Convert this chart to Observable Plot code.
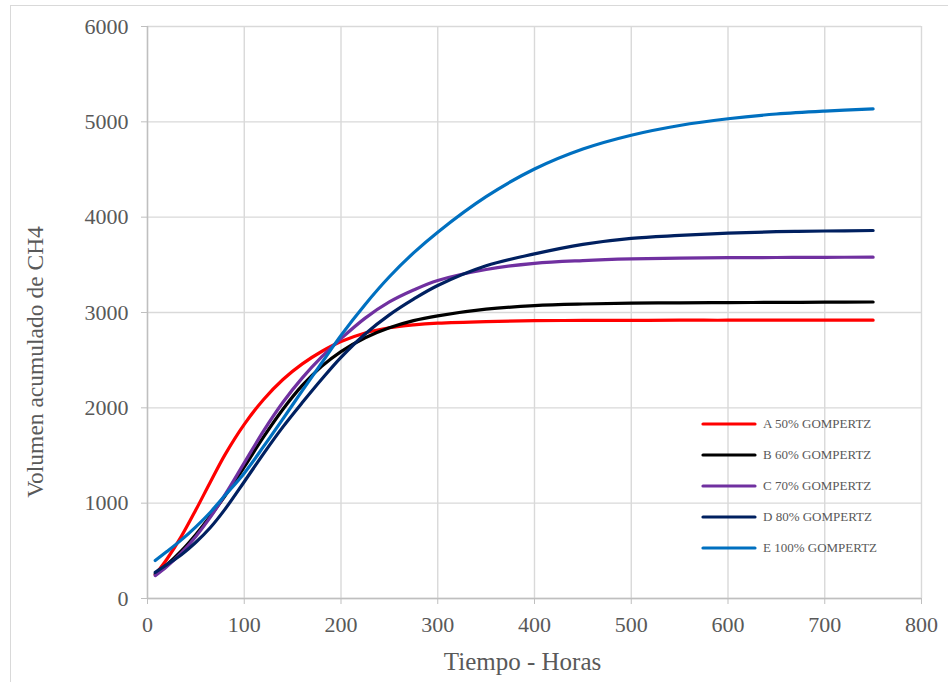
<!DOCTYPE html>
<html>
<head>
<meta charset="utf-8">
<script src="https://cdn.jsdelivr.net/npm/d3@7"></script>
<script src="https://cdn.jsdelivr.net/npm/@observablehq/plot@0.6"></script>
<style>
  html, body { margin: 0; padding: 0; background: #fff; }
  #wrap { position: relative; width: 948px; height: 682px; overflow: hidden; }
  #frame { position: absolute; left: 10px; top: 5px; width: 960px; height: 700px; border: 1.5px solid #D9D9D9; box-sizing: border-box; pointer-events: none; }
  #ytitle { position: absolute; left: 36px; top: 362px; transform: translate(-50%, -50%) rotate(-90deg); white-space: nowrap;
            font-family: "Liberation Serif", "Times New Roman", serif; font-size: 23.5px; color: #595959; line-height: 1; }
  #legend { position: absolute; left: 700px; top: 412px; font-family: "Liberation Serif", "Times New Roman", serif; font-size: 13px; color: #595959; }
  #legend .row { position: absolute; left: 0; height: 24px; display: flex; align-items: center; white-space: nowrap; }
  #legend svg { margin-right: 5px; }
</style>
</head>
<body>
<div id="wrap">
  <div id="chart"></div>
  <div id="frame"></div>
  <div id="ytitle"></div>
  <div id="legend"></div>
</div>
<script>
// Time (hours)
const hours = [8, 20, 35, 50, 65, 80, 100, 120, 140, 160, 180, 200, 225, 250, 275, 300, 350, 400, 450, 500, 550, 600, 650, 700, 750];

// Series values (accumulated CH4 volume)
const serieA = [250, 412, 652, 930, 1222, 1507, 1827, 2087, 2297, 2461, 2591, 2695, 2785, 2840, 2870, 2888, 2905, 2914, 2917, 2918, 2919, 2919, 2920, 2920, 2920];
const serieB = [258, 355, 500, 672, 866, 1075, 1380, 1695, 1985, 2235, 2435, 2590, 2735, 2840, 2915, 2965, 3035, 3072, 3089, 3098, 3102, 3104, 3106, 3108, 3110];
const serieC = [240, 336, 478, 651, 853, 1086, 1422, 1758, 2058, 2314, 2534, 2726, 2941, 3111, 3236, 3336, 3451, 3516, 3545, 3562, 3570, 3575, 3577, 3579, 3580];
const serieD = [275, 355, 460, 590, 745, 935, 1225, 1520, 1800, 2055, 2300, 2530, 2775, 2975, 3140, 3283, 3490, 3615, 3715, 3778, 3808, 3832, 3848, 3855, 3860];
const serieE = [398, 492, 615, 752, 905, 1080, 1315, 1595, 1885, 2180, 2470, 2760, 3085, 3375, 3625, 3843, 4215, 4505, 4715, 4860, 4962, 5032, 5082, 5113, 5135];

const seriesNames = ["A 50% GOMPERTZ", "B 60% GOMPERTZ", "C 70% GOMPERTZ", "D 80% GOMPERTZ", "E 100% GOMPERTZ"];
const seriesColors = ["#FF0000", "#000000", "#7030A0", "#002060", "#0070C0"];
const xTicks = [0, 100, 200, 300, 400, 500, 600, 700, 800];
const yTicks = [0, 1000, 2000, 3000, 4000, 5000, 6000];
const xTitle = "Tiempo - Horas";
const yTitle = "Volumen acumulado de CH4";

const allSeries = [serieA, serieB, serieC, serieD, serieE];
const rows = [];
allSeries.forEach((vals, i) => {
  vals.forEach((v, j) => rows.push({serie: seriesNames[i], hora: hours[j], vol: v}));
});

const textColor = "#595959";
const font = "'Liberation Serif', 'Times New Roman', serif";

const chart = Plot.plot({
  width: 948,
  height: 682,
  marginLeft: 147,
  marginRight: 27,
  marginTop: 26,
  marginBottom: 84,
  style: {fontFamily: font, color: textColor, background: "white", overflow: "visible"},
  x: {domain: [0, 800], label: null},
  y: {domain: [0, 6000], label: null},
  color: {domain: seriesNames, range: seriesColors},
  marks: [
    Plot.gridX(xTicks, {stroke: "#D9D9D9", strokeOpacity: 1, strokeWidth: 1.4}),
    Plot.gridY(yTicks, {stroke: "#D9D9D9", strokeOpacity: 1, strokeWidth: 1.4}),
    Plot.ruleX([0], {stroke: "#BFBFBF", strokeWidth: 1.4}),
    Plot.ruleY([0], {stroke: "#BFBFBF", strokeWidth: 1.4}),
    Plot.axisX({ticks: xTicks, tickSize: 6, tickPadding: 12, stroke: "#BFBFBF", fill: textColor, fontSize: 22, label: null, tickFormat: d => String(d)}),
    Plot.axisY({ticks: yTicks, tickSize: 6, tickPadding: 13, stroke: "#BFBFBF", fill: textColor, fontSize: 22, label: null, tickFormat: d => String(d)}),
    Plot.line(rows, {x: "hora", y: "vol", z: "serie", stroke: "serie", strokeWidth: 3.2, curve: "catmull-rom", strokeLinecap: "round"}),
    Plot.text([xTitle], {frameAnchor: "bottom", dx: -12, dy: 63, fontSize: 25, fill: textColor, lineAnchor: "middle"})
  ]
});
document.getElementById("chart").appendChild(chart);

document.getElementById("ytitle").textContent = yTitle;

// Legend
const legend = document.getElementById("legend");
const rowTops = [0, 31, 62, 93, 124];
seriesNames.forEach((name, i) => {
  const row = document.createElement("div");
  row.className = "row";
  row.style.top = rowTops[i] + "px";
  row.innerHTML = `<svg width="58" height="6"><line x1="3" y1="3" x2="55" y2="3" stroke="${seriesColors[i]}" stroke-width="3.2" stroke-linecap="round"/></svg><span>${name}</span>`;
  legend.appendChild(row);
});
</script>
</body>
</html>
